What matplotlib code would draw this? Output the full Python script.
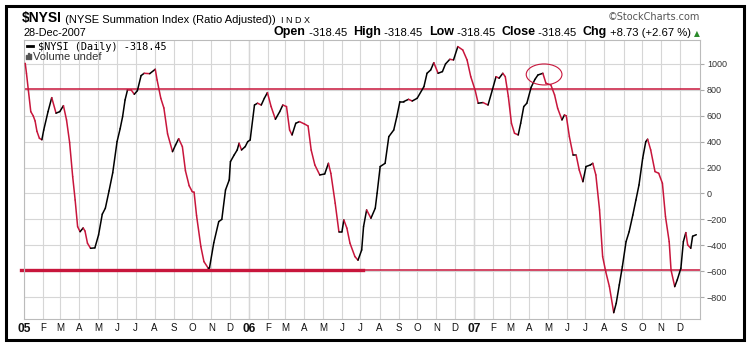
import matplotlib
matplotlib.use("Agg")
import matplotlib.pyplot as plt
import matplotlib.dates as mdates
from matplotlib.collections import LineCollection
from matplotlib.lines import Line2D
from matplotlib.patches import Ellipse, Rectangle
import numpy as np
import pandas as pd

# $NYSI daily closes (roughly weekly points)
dates05 = ["2005-01-03", "2005-01-05", "2005-01-08", "2005-01-12", "2005-01-16", "2005-01-19",
           "2005-01-22", "2005-01-26", "2005-01-30", "2005-02-02", "2005-02-09", "2005-02-15",
           "2005-02-22", "2005-02-28", "2005-03-06", "2005-03-11", "2005-03-16", "2005-03-21",
           "2005-03-25", "2005-03-29", "2005-04-02", "2005-04-07", "2005-04-10", "2005-04-14",
           "2005-04-19", "2005-04-26", "2005-05-02", "2005-05-08", "2005-05-13", "2005-05-19",
           "2005-05-25", "2005-06-01", "2005-06-06", "2005-06-10", "2005-06-14", "2005-06-18",
           "2005-06-24", "2005-06-29", "2005-07-04", "2005-07-10", "2005-07-15", "2005-07-24",
           "2005-08-02", "2005-08-05", "2005-08-11", "2005-08-16", "2005-08-22", "2005-08-30",
           "2005-09-04", "2005-09-09", "2005-09-15", "2005-09-20", "2005-09-26", "2005-10-01",
           "2005-10-04", "2005-10-08", "2005-10-15", "2005-10-20", "2005-10-27", "2005-10-29",
           "2005-11-05", "2005-11-13", "2005-11-18", "2005-11-24", "2005-11-30", "2005-12-02",
           "2005-12-08", "2005-12-13", "2005-12-16", "2005-12-20", "2005-12-26", "2005-12-30"]
nysi05 = [1005, 928, 800, 632, 599, 560,
          480, 426, 415, 490, 632, 740,
          620, 632, 678, 568, 395, 130,
          -50, -256, -295, -266, -290, -384,
          -423, -420, -320, -160, -114, 20,
          160, 400, 500, 593, 722, 800,
          799, 766, 794, 910, 928, 925,
          959, 876, 735, 660, 460, 323,
          375, 423, 362, 175, 60, 14,
          10, -170, -410, -526, -577, -575,
          -380, -217, -200, 27, 104, 246,
          297, 336, 388, 336, 362, 400]

dates06 = ["2006-01-03", "2006-01-10", "2006-01-15", "2006-01-21", "2006-01-26", "2006-01-31",
           "2006-02-06", "2006-02-13", "2006-02-20", "2006-02-25", "2006-03-03", "2006-03-08",
           "2006-03-12", "2006-03-18", "2006-03-24", "2006-04-01", "2006-04-07", "2006-04-12",
           "2006-04-18", "2006-04-26", "2006-05-04", "2006-05-10", "2006-05-14", "2006-05-21",
           "2006-05-27", "2006-06-01", "2006-06-04", "2006-06-09", "2006-06-14", "2006-06-22",
           "2006-06-27", "2006-07-03", "2006-07-06", "2006-07-11", "2006-07-18", "2006-07-25",
           "2006-07-28", "2006-08-02", "2006-08-10", "2006-08-16", "2006-08-24", "2006-08-29",
           "2006-09-03", "2006-09-09", "2006-09-17", "2006-09-23", "2006-10-01", "2006-10-12",
           "2006-10-17", "2006-10-23", "2006-10-28", "2006-11-04", "2006-11-11", "2006-11-16",
           "2006-11-23", "2006-11-29", "2006-12-06", "2006-12-14", "2006-12-21", "2006-12-27"]
nysi06 = [413, 683, 697, 683, 735, 779,
          671, 573, 632, 683, 671, 490,
          452, 542, 555, 537, 521, 336,
          220, 143, 151, 233, 155, -75,
          -295, -295, -204, -268, -384, -487,
          -515, -436, -256, -127, -191, -114,
          2, 208, 233, 439, 490, 593,
          709, 709, 727, 714, 735, 825,
          928, 954, 1010, 928, 941, 1000,
          1036, 1031, 1134, 1108, 1031, 902]

dates07 = ["2007-01-03", "2007-01-08", "2007-01-16", "2007-01-24", "2007-01-31", "2007-02-06",
           "2007-02-11", "2007-02-17", "2007-02-21", "2007-02-26", "2007-03-03", "2007-03-08",
           "2007-03-14", "2007-03-18", "2007-03-23", "2007-03-28", "2007-04-04", "2007-04-10",
           "2007-04-15", "2007-04-23", "2007-04-28", "2007-05-06", "2007-05-12", "2007-05-17",
           "2007-05-24", "2007-05-28", "2007-05-31", "2007-06-05", "2007-06-11", "2007-06-16",
           "2007-06-21", "2007-06-27", "2007-07-02", "2007-07-09", "2007-07-13", "2007-07-18",
           "2007-07-24", "2007-07-29", "2007-08-03", "2007-08-09", "2007-08-16", "2007-08-20",
           "2007-08-25", "2007-08-30", "2007-09-05", "2007-09-10", "2007-09-16", "2007-09-21",
           "2007-09-26", "2007-10-02", "2007-10-07", "2007-10-10", "2007-10-15", "2007-10-22",
           "2007-10-28", "2007-11-03", "2007-11-08", "2007-11-14", "2007-11-17", "2007-11-23",
           "2007-11-27", "2007-12-03", "2007-12-07", "2007-12-11", "2007-12-14", "2007-12-19",
           "2007-12-22", "2007-12-28"]
nysi07 = [799, 697, 702, 683, 799, 902,
          890, 928, 902, 748, 542, 465,
          452, 542, 671, 697, 820, 880,
          915, 928, 851, 838, 761, 658,
          568, 606, 600, 439, 297, 297,
          182, 91, 208, 220, 233, 143,
          -127, -487, -603, -719, -920, -848,
          -706, -565, -372, -295, -166, -50,
          66, 272, 400, 419, 336, 169,
          156, 79, -179, -372, -591, -719,
          -668, -577, -372, -302, -397, -423,
          -330, -318.45]

resistance = 810
support = -590
support_break = "2006-07-05"
circle_date = "2007-04-25"
circle_level = 919

red = "#c8163c"
W, H = 750, 346


def fx(px):
    return px / W


def fy(py):
    return 1 - py / H


fig = plt.figure(figsize=(W / 100, H / 100), dpi=100)
ax = fig.add_axes([fx(24), fy(319), fx(700) - fx(24), fy(40) - fy(319)])

dates = pd.to_datetime(dates05 + dates06 + dates07)
vals = np.array(nysi05 + nysi06 + nysi07, dtype=float)
x = mdates.date2num(dates)
pts = np.column_stack([x, vals]).reshape(-1, 1, 2)
segs = np.concatenate([pts[:-1], pts[1:]], axis=1)
cols = ["black" if d >= 0 else red for d in np.diff(vals)]
ax.add_collection(LineCollection(segs, colors=cols, linewidths=1.1,
                                 capstyle="round", joinstyle="round", zorder=3))

ax.set_xlim(mdates.date2num(pd.Timestamp("2005-01-01")),
            mdates.date2num(pd.Timestamp("2008-01-03")))
ax.set_ylim(-969, 1185)

# reference lines
ax.axhline(resistance, color=red, lw=1.1, zorder=2)
brk = (mdates.date2num(pd.Timestamp(support_break)) - ax.get_xlim()[0]) / np.diff(ax.get_xlim())[0]
ax.plot([-0.005, brk], [support, support], color=red, lw=2.4,
        transform=ax.get_yaxis_transform(), clip_on=False, zorder=2)
ax.plot([brk, 1], [support, support], color=red, lw=1.1,
        transform=ax.get_yaxis_transform(), zorder=2)
ax.add_patch(Ellipse((mdates.date2num(pd.Timestamp(circle_date)), circle_level),
                     width=58, height=162, fill=False, ec=red, lw=0.8, zorder=4))

# month grid
months = pd.date_range("2005-01-01", "2007-12-01", freq="MS")
month_labels = [d.strftime("%y") if d.month == 1 else d.strftime("%b")[0] for d in months]
ax.set_xticks(mdates.date2num(months))
ax.set_xticklabels(month_labels)
ax.tick_params(axis="x", length=0, pad=3, labelsize=7, labelcolor="#111111")
for t, d in zip(ax.get_xticklabels(), months):
    t.set_family("Liberation Sans")
    if d.month == 1:
        t.set_fontweight("bold")
        t.set_fontsize(8.6)
ax.set_yticks(range(-800, 1001, 200))
ax.yaxis.tick_right()
ax.tick_params(axis="y", length=3, pad=2, labelsize=6.5, color="#aaaaaa", labelcolor="#333333")
for lab in ax.get_yticklabels():
    lab.set_family("Liberation Sans")
ax.grid(True, color="#d6d6d6", lw=0.8, zorder=0)
for yr in ["2006-01-01", "2007-01-01"]:
    ax.axvline(mdates.date2num(pd.Timestamp(yr)), color="#b4b4b4", lw=0.9, zorder=1)
for s in ax.spines.values():
    s.set_color("#bbbbbb")
    s.set_linewidth(0.8)

# legend inside the plot
fig.lines.append(Line2D([fx(27), fx(33)], [fy(46), fy(46)], transform=fig.transFigure,
                        color="black", lw=2))
fig.text(fx(38), fy(49.5), "$NYSI (Daily) -318.45", family="DejaVu Sans Mono",
         fontsize=7.4, va="baseline", ha="left")
for i, hgt in enumerate([4, 6, 5]):
    fig.patches.append(Rectangle((fx(25.5 + i * 2.3), fy(59)), fx(1.2), hgt / H,
                                 transform=fig.transFigure, color="#555555"))
fig.text(fx(33), fy(59.5), "Volume undef", family="Liberation Sans", fontsize=8,
         color="#333333", va="baseline")

# header
sans = "Liberation Sans"
t = fig.text(fx(22), fy(22), "$NYSI", family=sans, fontsize=10, weight="bold", va="baseline")
t = ax.annotate(" (NYSE Summation Index (Ratio Adjusted))", xy=(1, 0), xycoords=t,
                family=sans, fontsize=8, va="bottom", ha="left")
ax.annotate("  I N D X", xy=(1, 0), xycoords=t, family=sans, fontsize=6.5,
            va="bottom", ha="left")
fig.text(fx(700), fy(19.5), "\u00a9StockCharts.com", family="DejaVu Sans", fontsize=7,
         color="#555555", ha="right", va="baseline")
fig.text(fx(23), fy(36), "28-Dec-2007", family=sans, fontsize=7.8, va="baseline")

hdr = [("Open", True), (" -318.45  ", False), ("High", True), (" -318.45  ", False),
       ("Low", True), (" -318.45  ", False), ("Close", True), (" -318.45  ", False),
       ("Chg", True), (" +8.73 (+2.67 %) ", False)]
t = fig.text(fx(700), fy(36), "\u25b2", family="DejaVu Sans", fontsize=5.5,
             color="#2a8a2a", ha="right", va="baseline")
for s, bold in reversed(hdr):
    t = ax.annotate(s, xy=(0, 0), xycoords=t, family=sans,
                    fontsize=9 if bold else 8.1, weight="bold" if bold else "normal",
                    va="bottom", ha="right")

fig.patches.append(Rectangle((fx(6), fy(340)), fx(744) - fx(6), fy(6) - fy(340),
                             transform=fig.transFigure, fill=False, lw=2.2, ec="black"))

fig.savefig("out.png", dpi=100)
